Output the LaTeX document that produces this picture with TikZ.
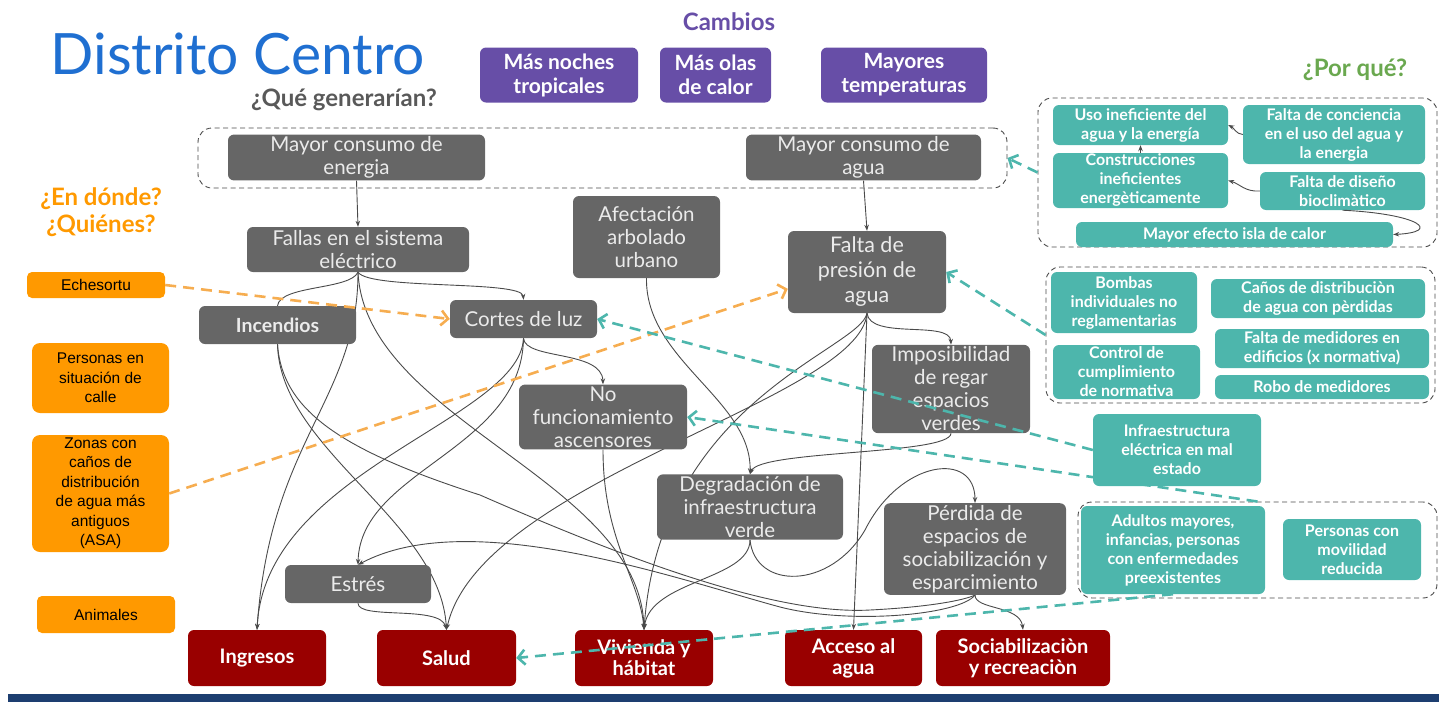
\documentclass[tikz,border=0pt]{standalone}
\usepackage{fontspec}
\setmainfont{Lato}
\newfontfamily\arialfont{Liberation Sans}
\usetikzlibrary{arrows.meta,backgrounds}

\definecolor{titleblue}{HTML}{1F6FD1}
\definecolor{boxgray}{HTML}{666666}
\definecolor{linegray}{HTML}{4A4A4A}
\definecolor{changepurple}{HTML}{674EA7}
\definecolor{impactred}{HTML}{990000}
\definecolor{causeteal}{HTML}{4DB6AC}
\definecolor{tealline}{HTML}{4DB6AC}
\definecolor{placeorange}{HTML}{FF9900}
\definecolor{orangeline}{HTML}{F6AD50}
\definecolor{whygreen}{HTML}{6AA84F}
\definecolor{askgray}{HTML}{595959}
\definecolor{band}{HTML}{1D3E70}

\tikzset{
  effect/.style={fill=boxgray, rounded corners=6pt, text=white!92!black, align=center,
    inner sep=2pt, font=\fontsize{20.5}{23}\selectfont},
  change/.style={fill=changepurple, rounded corners=6pt, text=white, align=center,
    inner sep=2pt, font=\bfseries\fontsize{21}{24}\selectfont},
  impact/.style={fill=impactred, rounded corners=6pt, text=white, align=center,
    inner sep=2pt, minimum height=56pt, font=\bfseries\fontsize{20}{21}\selectfont},
  cause/.style={fill=causeteal, rounded corners=6pt, text=white, align=center,
    inner sep=1pt, font=\bfseries\fontsize{16}{19}\selectfont},
  place/.style={fill=placeorange, rounded corners=8pt, text=black, align=center,
    inner sep=1pt, font=\arialfont\fontsize{15.5}{19.5}\selectfont},
  group/.style={draw=linegray, line width=0.9pt, dash pattern=on 5pt off 3.5pt,
    rounded corners=14pt},
  heading/.style={font=\bfseries\fontsize{24}{27}\selectfont, align=center},
  link/.style={draw=linegray, line width=0.9pt, -{Stealth[length=6pt,width=4.5pt]}},
  plainlink/.style={draw=linegray, line width=0.9pt},
  tlink/.style={draw=tealline, line width=2.6pt, dash pattern=on 11pt off 7pt,
    -{Straight Barb[length=7pt,width=15pt]}},
  olink/.style={draw=orangeline, line width=2.6pt, dash pattern=on 11pt off 7pt,
    -{Straight Barb[length=7pt,width=15pt]}}
}

\begin{document}
\begin{tikzpicture}[x=1pt,y=-1pt]
\useasboundingbox (0,0) rectangle (1439,702);
\fill[band] (8,694) rectangle (1439,702);

\node[anchor=base west, text=titleblue, font=\fontsize{57}{60}\selectfont] (title) at (47,74) {Distrito Centro};
\node[heading, text=changepurple] (cambios) at (729,22) {Cambios};
\node[heading, text=askgray] (que) at (344,100) {¿Qué generarían?};
\node[heading, text=whygreen] (porque) at (1355,70) {¿Por qué?};
\node[heading, text=placeorange] (donde) at (101,212) {¿En dónde?\\¿Quiénes?};

\node[change, minimum width=158pt, minimum height=55pt] (mnt) at (559,75) {Más noches\\tropicales};
\node[change, minimum width=111pt, minimum height=55pt] (mol) at (715.5,75) {Más olas\\de calor};
\node[change, minimum width=166pt, minimum height=55pt] (mte) at (904,75) {Mayores\\temperaturas};

\node[group, minimum width=809pt, minimum height=60pt] (gtop) at (602.5,158) {};
\node[effect, minimum width=257pt, minimum height=45pt] (ce) at (356.5,157.5) {Mayor consumo de\\energia};
\node[effect, minimum width=235pt, minimum height=45pt] (ca) at (863.5,157.5) {Mayor consumo de\\agua};

\node[effect, minimum width=222pt, minimum height=45pt] (fse) at (358,249.5) {Fallas en el sistema\\eléctrico};
\node[effect, minimum width=157pt, minimum height=38pt, font=\bfseries\fontsize{19.5}{23}\selectfont] (inc) at (277.5,325) {Incendios};
\node[effect, minimum width=147pt, minimum height=38pt] (cdl) at (523.5,319) {Cortes de luz};
\node[effect, minimum width=147pt, minimum height=82pt] (aau) at (646.5,237) {Afectación\\arbolado\\urbano};
\node[effect, minimum width=158pt, minimum height=82pt, font=\fontsize{21.5}{25}\selectfont] (fpa) at (867,272) {Falta de\\presión de\\agua};
\node[effect, minimum width=158pt, minimum height=82pt] (irv) at (951,389) {Imposibilidad\\de regar\\espacios\\verdes};
\node[effect, minimum width=168pt, minimum height=60pt] (nfa) at (603,417) {No\\funcionamiento\\ascensores};
\node[effect, minimum width=186pt, minimum height=60pt] (dig) at (750,507) {Degradación de\\infraestructura\\verde};
\node[effect, minimum width=182pt, minimum height=82pt] (pes) at (975,549) {Pérdida de\\espacios de\\sociabilización y\\esparcimiento};
\node[effect, minimum width=146pt, minimum height=38pt] (est) at (358,584) {Estrés};

\node[impact, minimum width=138pt] (ing) at (257,658) {Ingresos};
\node[impact, minimum width=139pt] (sal) at (446.5,658) {Salud};
\node[impact, minimum width=138pt] (viv) at (644,658) {Vivienda y\\hábitat};
\node[impact, minimum width=137pt] (acc) at (853.5,658) {Acceso al\\agua};
\node[impact, minimum width=174pt] (soc) at (1023,658) {Sociabilizaciòn\\y recreaciòn};

\node[place, minimum width=138pt, minimum height=26pt, rounded corners=5pt] (ech) at (96,285) {Echesortu};
\node[place, minimum width=137pt, minimum height=70pt] (psc) at (100.5,378) {Personas en\\situación de\\calle};
\node[place, minimum width=137pt, minimum height=117pt] (zon) at (100.5,493.5) {Zonas con\\caños de\\distribución\\de agua más\\antiguos\\(ASA)};
\node[place, minimum width=138pt, minimum height=37pt, rounded corners=5pt] (ani) at (106,614.5) {Animales};

\node[group, minimum width=399pt, minimum height=149pt] (gwhy) at (1237.5,172.5) {};
\node[cause, minimum width=175pt, minimum height=40pt] (uie) at (1140.5,125) {Uso ineficiente del\\agua y la energía};
\node[cause, minimum width=182pt, minimum height=59pt] (fdc) at (1334,134.5) {Falta de conciencia\\en el uso del agua y\\la energia};
\node[cause, minimum width=175pt, minimum height=55pt] (cie) at (1140.5,180.5) {Construcciones\\ineficientes\\energèticamente};
\node[cause, minimum width=165pt, minimum height=38pt] (fdb) at (1342.5,191) {Falta de diseño\\bioclimàtico};
\node[cause, minimum width=317pt, minimum height=25pt] (mei) at (1234.5,234.5) {Mayor efecto isla de calor};

\node[group, minimum width=389pt, minimum height=136pt] (gwat) at (1240.5,335) {};
\node[cause, minimum width=146pt, minimum height=61pt] (bin) at (1124,302.5) {Bombas\\individuales no\\reglamentarias};
\node[cause, minimum width=214pt, minimum height=39pt] (cdp) at (1318,298.5) {Caños de distribuciòn\\de agua con pèrdidas};
\node[cause, minimum width=147pt, minimum height=54pt] (ccn) at (1126.5,372) {Control de\\cumplimiento\\de normativa};
\node[cause, minimum width=214pt, minimum height=39pt] (fme) at (1322,348.5) {Falta de medidores en\\edificios (x normativa)};
\node[cause, minimum width=214pt, minimum height=24pt] (rme) at (1322,387) {Robo de medidores};

\node[group, minimum width=359pt, minimum height=96pt] (gpeo) at (1257.5,550) {};
\node[cause, minimum width=184pt, minimum height=88pt] (amp) at (1173,550) {Adultos mayores,\\infancias, personas\\con enfermedades\\preexistentes};
\node[cause, minimum width=138pt, minimum height=61pt] (pmr) at (1352,549.5) {Personas con\\movilidad\\reducida};

\draw[tlink] (gpeo.north) -- (nfa.east);
\node[cause, minimum width=168pt, minimum height=72pt] (iem) at (1177,450) {Infraestructura\\eléctrica en mal\\estado};

\begin{pgfonlayer}{background}
\draw[link] (ce.south) -- (fse.north);
\draw[link] (ca.south) -- (fpa.north);
\draw[plainlink] (fse.south) .. controls (350,290) and (280,285) .. (inc.north);
\draw[link] (fse.south) .. controls (370,290) and (522,280) .. (cdl.north);
\draw[link] (fse.south) .. controls (358,400) and (270,440) .. (ing.north);
\draw[link] (fse.south) .. controls (365,420) and (640,480) .. (viv.north);
\draw[link] (inc.south) .. controls (280,450) and (440,520) .. (sal.north);
\draw[plainlink] (inc.south) .. controls (282,410) and (340,450) .. (480,495)
  .. controls (640,565) and (780,615) .. (870,610)
  .. controls (930,607) and (965,600) .. (pes.south);
\draw[link] (cdl.south) .. controls (525,360) and (602,350) .. (nfa.north);
\draw[link] (cdl.south) .. controls (520,420) and (265,470) .. (ing.north);
\draw[link] (cdl.south) .. controls (522,450) and (360,470) .. (est.north);
\draw[link] (aau.south) .. controls (645,360) and (752,400) .. (dig.north);
\draw[link] (fpa.south) .. controls (870,340) and (950,320) .. (irv.north);
\draw[link] (fpa.south) -- (acc.north);
\draw[link] (fpa.south) .. controls (860,350) and (660,400) .. (viv.north);
\draw[link] (fpa.south) .. controls (860,400) and (480,480) .. (sal.north);
\draw[link] (irv.south) .. controls (950,455) and (760,450) .. (dig.north);
\draw[link] (nfa.south) .. controls (603,540) and (640,580) .. (viv.north);
\draw[link] (dig.south) .. controls (750,580) and (650,580) .. (viv.north);
\draw[link] (dig.south) .. controls (755,590) and (830,590) .. (865,530)
  .. controls (900,460) and (975,450) .. (pes.north);
\draw[link] (pes.south) .. controls (960,615) and (850,625) .. (780,607)
  .. controls (680,580) and (470,505) .. (est.north);
\draw[link] (pes.south) .. controls (975,610) and (1020,605) .. (soc.north);
\draw[link] (est.south) .. controls (358,620) and (440,605) .. (sal.north);
\end{pgfonlayer}

\draw[link] (fdc.west) .. controls (1236,134) and (1234,128) .. (uie.east);
\draw[link] (cie.north) -- (uie.south);
\draw[link] (fdb.west) .. controls (1245,192) and (1240,184) .. (cie.east);
\draw[link] (fdb.south) .. controls (1420,214) and (1442,232) .. (mei.east);

\draw[olink] (ech.east) -- (cdl.west);
\draw[olink] (zon.east) -- (fpa.192);
\draw[tlink] (gwhy.west) -- (gtop.east);
\draw[tlink] (gwat.west) -- (fpa.east);
\draw[tlink] (iem.west) -- (cdl.east);
\draw[tlink] (amp.south) -- (sal.east);
\end{tikzpicture}
\end{document}
